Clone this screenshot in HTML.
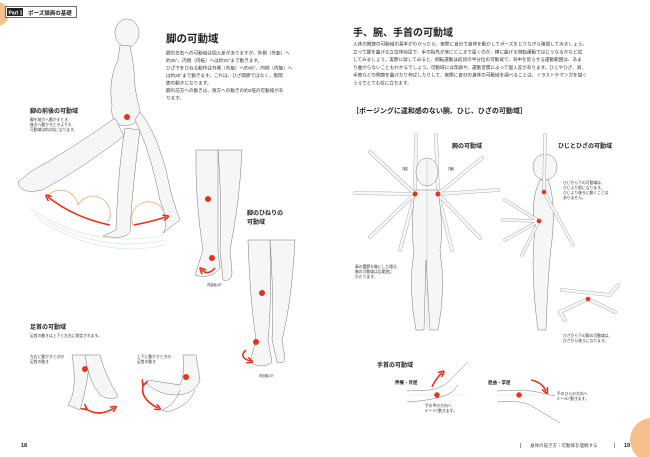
<!DOCTYPE html>
<html><head><meta charset="utf-8"><style>
html,body{margin:0;padding:0;background:#fff;}
svg{display:block;font-family:"Liberation Sans","Noto Sans CJK JP",sans-serif;}
.t{font-size:4.6px;fill:#333;}
.s{font-size:3.8px;fill:#333;}
.h{font-weight:bold;fill:#222;}
.f{fill:#f6f6f6;stroke:#777;stroke-width:0.5;}
.l{fill:none;stroke:#777;stroke-width:0.5;}
.r{fill:none;stroke:#e8321a;stroke-width:1.6;}
.o{fill:none;stroke:#f5b06e;stroke-width:0.9;}
</style></head><body>
<svg width="650" height="457" viewBox="0 0 650 457" xmlns="http://www.w3.org/2000/svg">
<defs><marker id="a" markerWidth="4" markerHeight="4" refX="2" refY="2" orient="auto"><path d="M0,0 L4,2 L0,4" fill="none" stroke="#e8321a" stroke-width="1"/></marker></defs>
<circle cx="-3" cy="14" r="12" fill="#f5c08c"/>
<circle cx="652" cy="440" r="22" fill="#f5c08c"/>
<rect x="5.5" y="6.5" width="71" height="11" fill="#fff" stroke="#333" stroke-width="0.7"/>
<rect x="7" y="8" width="16" height="8" fill="#222"/>
<text x="8.5" y="14.5" font-size="5" fill="#fff" font-weight="bold">Part 1</text>
<text x="28" y="14.8" font-size="5.5" class="h">ポーズ描画の基礎</text>

<!-- left page text -->
<text x="166" y="42" font-size="10.5" class="h">脚の可動域</text>
<g class="t">
<text x="166" y="54.5">脚の左右への可動域は個人差がありますが，外側（外転）へ</text>
<text x="166" y="62">約45°、内側（内転）へは約20°まで動きます。</text>
<text x="166" y="69.5">ひざ下をひねる動作は外側（外旋）へ約45°、内側（内旋）へ</text>
<text x="166" y="77">は約20°まで動きます。これは、ひざ関節ではなく、股関</text>
<text x="166" y="84.5">節の動きになります。</text>
<text x="166" y="92">脚の前方への動きは、後方への動きの約2倍の可動域があ</text>
<text x="166" y="99.5">ります。</text>
</g>
<text x="30" y="113" font-size="6" class="h">脚の前後の可動域</text>
<g class="s"><text x="30" y="121">脚を前方へ動かすとき、</text><text x="30" y="126">後方へ動かすときよりも</text><text x="30" y="131">可動域は約2倍になります。</text></g>

<!-- walking figure -->
<ellipse cx="127" cy="33" rx="12" ry="14" class="f"/>
<path d="M120,45 L118,60 Q108,80 112,105 Q110,120 120,125 Q140,128 140,110 Q134,90 134,70 Q132,55 130,46 Z" class="f"/>
<path d="M115,118 Q70,150 30,172 L18,182 Q20,195 42,190 Q80,170 124,136 Z" class="f"/>
<path d="M125,128 Q118,170 116,230 L103,236 Q125,240 130,232 Q132,190 140,130 Z" class="f"/>
<path d="M135,120 Q150,150 160,200 Q170,225 163,233 L180,220 Q172,200 166,170 Q155,130 140,112 Z" class="f"/>
<circle cx="127" cy="117" r="3" fill="#e8321a"/>
<path d="M48,195 A18,18 0 0 1 78,205 M78,205 A13,13 0 0 1 108,222 M133,225 A15,15 0 0 1 164,212" class="o"/>
<path d="M110,225 Q75,218 48,197" class="r" marker-end="url(#a)"/>
<path d="M134,225 Q150,222 166,217" class="r" marker-end="url(#a)"/>
<path d="M30,208 Q90,250 165,235 M33,213 Q95,255 165,240 M36,218 Q100,260 165,245" fill="none" stroke="#cfe5cf" stroke-width="0.6"/>

<!-- twist leg -->
<path d="M196,150 Q195,200 203,250 L195,275 Q210,280 220,268 L218,250 Q218,200 218,150 Z" class="f"/>
<path d="M218,150 Q222,200 220,250 L223,280 Q232,282 232,272 L230,250 Q240,200 242,150 Z" class="f"/>
<circle cx="208" cy="199" r="3" fill="#e8321a"/><circle cx="212" cy="258" r="3" fill="#e8321a"/>
<path d="M215,268 Q208,276 202,270" class="r" stroke-width="1" marker-end="url(#a)"/>
<text x="207" y="286" font-size="3.3" fill="#333">内旋転45°</text>
<text x="247" y="215" font-size="6" class="h">脚のひねりの</text>
<text x="247" y="224" font-size="6" class="h">可動域</text>
<path d="M248,240 Q250,300 256,340 L250,362 Q262,370 272,362 L268,340 Q272,300 270,240 Z" class="f"/>
<path d="M270,240 Q274,300 272,340 L277,362 Q284,365 285,358 L282,340 Q292,300 295,240 Z" class="f"/>
<circle cx="262" cy="293" r="3" fill="#e8321a"/><circle cx="256" cy="342" r="3" fill="#e8321a"/>
<path d="M246,350 Q238,357 250,361" class="r" stroke-width="1" marker-end="url(#a)"/>
<text x="259" y="377" font-size="3.3" fill="#333">内回転20°</text>

<text x="30" y="329" font-size="6" class="h">足首の可動域</text>
<text x="30" y="337" class="s">足首の動きは上下と左右に限定されます。</text>
<g class="s"><text x="30" y="358">左右に動かすときの</text><text x="30" y="363">足首の動き</text><text x="137" y="358">上下に動かすときの</text><text x="137" y="363">足首の動き</text></g>
<path d="M72,355 Q78,390 68,405 L80,410 Q88,385 90,355 Z" class="f"/>
<path d="M85,355 Q88,380 100,395 Q112,402 118,396 Q105,375 100,355 Z" class="f"/>
<circle cx="85" cy="369" r="3" fill="#e8321a"/>
<path d="M85,408 Q98,418 114,408" class="r" marker-start="url(#a)" marker-end="url(#a)"/>
<path d="M183,355 Q185,375 180,385 L148,380 L145,382 Q158,395 175,395 Q195,395 200,380 L196,355 Z" class="f"/>
<path d="M180,390 Q175,405 162,410 L168,412 Q190,405 195,390" class="l"/>
<circle cx="186" cy="377" r="3" fill="#e8321a"/>
<path d="M144,383 Q138,398 158,408" class="r" marker-start="url(#a)" marker-end="url(#a)"/>
<text x="21" y="447" font-size="5.5" class="h">18</text>

<!-- right page -->
<text x="353" y="36" font-size="10" class="h">手、腕、手首の可動域</text>
<g class="t">
<text x="353" y="45.5">人体の関節の可動域の基本がわかったら、実際に自分で身体を動かしてポーズをとりながら確認してみましょう。</text>
<text x="353" y="53.5">立って腰を曲げる立位体前屈で、手の指先が床にどこまで届くのか、横に曲げる側転運動ではどうなるかなど試</text>
<text x="353" y="61">してみましょう。実際に試してみると、側転運動は前屈の半分位の可動域で、背中を反らせる運動範囲は、あま</text>
<text x="353" y="69">り曲がらないこともわかるでしょう。可動域には年齢や、運動習慣によって個人差があります。ひじやひざ、肩、</text>
<text x="353" y="76.5">手首などの関節を曲げたり伸ばしたりして、実際に自分の身体の可動域を調べることは、イラストやマンガを描く</text>
<text x="353" y="84.5">うえでとても役に立ちます。</text>
</g>
<text x="352" y="113" font-size="7" class="h">［ポージングに違和感のない腕、ひじ、ひざの可動域］</text>
<text x="452" y="148" font-size="6" class="h">腕の可動域</text>
<text x="558" y="148" font-size="6" class="h">ひじとひざの可動域</text>
<text x="400" y="170" font-size="3.5">［前］</text><text x="446" y="170" font-size="3.5">［後］</text>

<!-- front figure arms -->
<g fill="none" stroke="#999" stroke-width="3.6" stroke-linecap="round">
<path d="M415,194 L416,135 M438,194 L436,135 M415,194 L370,152 M438,194 L482,158 M415,194 L355,193 M438,194 L498,190 M415,194 L370,237 M438,194 L480,238 M415,194 L400,250 M438,194 L452,250"/>
</g>
<g fill="none" stroke="#f7f7f7" stroke-width="2.8" stroke-linecap="round">
<path d="M415,194 L416,135 M438,194 L436,135 M415,194 L370,152 M438,194 L482,158 M415,194 L355,193 M438,194 L498,190 M415,194 L370,237 M438,194 L480,238 M415,194 L400,250 M438,194 L452,250"/>
</g>
<ellipse cx="427" cy="172" rx="11" ry="14" class="f"/>
<path d="M415,190 Q410,230 414,250 Q408,290 416,330 L424,330 L426,260 L430,330 L438,330 Q446,290 440,250 Q444,230 438,190 Z" class="f"/>
<line x1="427" y1="160" x2="427" y2="330" stroke="#aaa" stroke-width="0.4"/>
<circle cx="415" cy="194" r="2.5" fill="#e8321a"/><circle cx="438" cy="194" r="2.5" fill="#e8321a"/>
<g class="s"><text x="355" y="268">肩の関節を軸にした場合、</text><text x="355" y="273">腕の可動域は広範囲に</text><text x="355" y="278">わたります。</text></g>

<!-- side figure -->
<ellipse cx="545" cy="167" rx="12" ry="13" class="f"/>
<path d="M540,180 Q530,200 535,230 Q530,270 538,330 L546,330 Q548,270 552,240 Q556,200 548,180 Z" class="f"/>
<g fill="none" stroke="#999" stroke-width="3.2" stroke-linecap="round"><path d="M544,192 L545,135 M544,192 L573,245 M539,221 L505,200 M539,221 L503,220 M539,221 L505,240 M539,221 L522,255"/></g>
<g fill="none" stroke="#f7f7f7" stroke-width="2.4" stroke-linecap="round"><path d="M544,192 L545,135 M544,192 L573,245 M539,221 L505,200 M539,221 L503,220 M539,221 L505,240 M539,221 L522,255"/></g>
<circle cx="544" cy="192" r="2.3" fill="#e8321a"/><circle cx="539" cy="221" r="2.3" fill="#e8321a"/>
<g class="s"><text x="563" y="184">ひじから下の可動域は、</text><text x="563" y="189">ひじより前になります。</text><text x="563" y="194">ひじより後ろに動くことは</text><text x="563" y="199">ありません。</text></g>
<g fill="none" stroke="#999" stroke-width="3.6" stroke-linecap="round"><path d="M562,290 L610,295 L618,285 M588,299 L560,312 L565,320 M588,299 L615,312"/></g>
<g fill="none" stroke="#f7f7f7" stroke-width="2.8" stroke-linecap="round"><path d="M562,290 L610,295 L618,285 M588,299 L560,312 L565,320 M588,299 L615,312"/></g>
<circle cx="588" cy="299" r="2.3" fill="#e8321a"/>
<g class="s"><text x="563" y="337">ひざから下の脚の可動域は、</text><text x="563" y="342">ひざから後ろになります。</text></g>

<text x="377" y="367" font-size="6" class="h">手首の可動域</text>
<text x="395" y="384" font-size="4.5" class="h">伸展・背屈</text>
<text x="488" y="384" font-size="4.5" class="h">屈曲・掌屈</text>
<path d="M407,391 L430,390 Q445,388 455,375 L468,362 M407,402 Q440,400 452,392 L458,385" class="l"/>
<line x1="408" y1="395" x2="466" y2="395" stroke="#f5a0b0" stroke-width="0.4" stroke-dasharray="1.5,1"/>
<circle cx="437" cy="395" r="2.7" fill="#e8321a"/>
<path d="M432,387 Q436,378 442,373" class="r" stroke-width="1" marker-end="url(#a)"/>
<g class="s"><text x="425" y="407">手の甲の方向へ</text><text x="425" y="412">0°～70°動きます。</text></g>
<path d="M497,391 L525,390 Q540,392 555,396 M497,402 Q520,400 530,405 L560,423" class="l"/>
<line x1="497" y1="395" x2="555" y2="395" stroke="#f5a0b0" stroke-width="0.4" stroke-dasharray="1.5,1"/>
<circle cx="519" cy="395" r="2.7" fill="#e8321a"/>
<path d="M531,380 Q542,382 546,391" class="r" stroke-width="1" marker-end="url(#a)"/>
<g class="s"><text x="557" y="395">手のひらの方向へ</text><text x="557" y="400">0°～90°動きます。</text></g>

<text x="520" y="447" font-size="5">|</text>
<text x="530" y="447" font-size="4.5" fill="#444">身体の描き方｜可動域を理解する</text>
<text x="614" y="447" font-size="5">|</text>
<text x="624" y="447" font-size="5.5" class="h">19</text>
</svg>
</body></html>
